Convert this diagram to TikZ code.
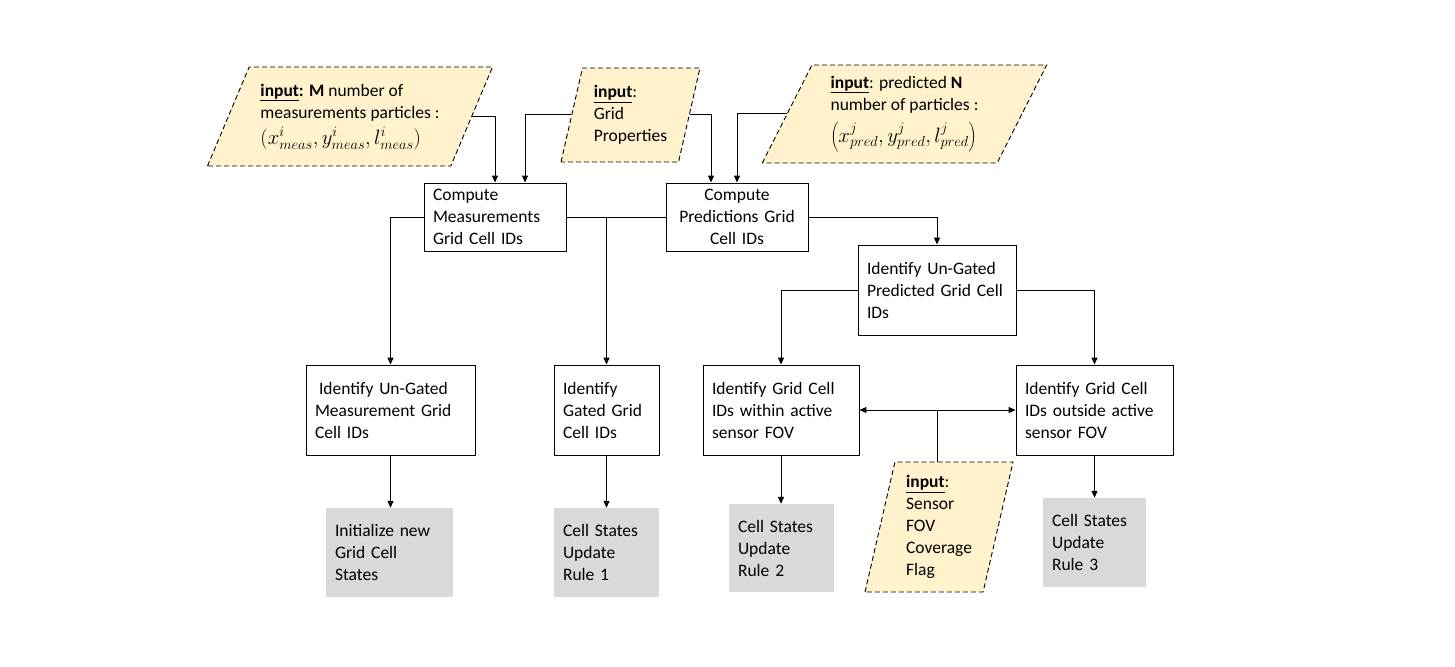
\documentclass[tikz,border=0pt]{standalone}
\usepackage{fontspec}
\setmainfont{Carlito}
\usetikzlibrary{shapes.geometric, arrows.meta}
\definecolor{inyellow}{HTML}{FFF2CC}
\definecolor{cellgrey}{HTML}{D9D9D9}
\newcommand{\bigmath}[1]{{\fontsize{20.5}{24}\selectfont$#1$}}

\begin{document}
\begin{tikzpicture}[x=1pt, y=-1pt,
        font=\fontsize{17.5}{22}\selectfont,
        proc/.style={draw, line width=0.9pt, inner xsep=9pt, inner ysep=0pt, align=left, text width=#1},
        rule/.style={fill=cellgrey, inner xsep=9pt, inner ysep=0pt, align=left, text width=#1},
        inbox/.style={trapezium, trapezium stretches=true, draw, dashed, dash pattern=on 5pt off 3pt,
            line width=0.9pt, fill=inyellow, inner sep=0pt, align=left},
        link/.style={line width=1pt},
        arr/.style={link, -{Triangle[length=7pt, width=6pt]}},
        darr/.style={link, {Triangle[length=7pt, width=6pt]}-{Triangle[length=7pt, width=6pt]}}]
        \useasboundingbox (0, 0) rectangle (1455, 666);

        % inputs
        \node[inbox, trapezium left angle=60.5, trapezium right angle=119.5,
            minimum width=286pt, minimum height=99pt] (inM) at (350, 116.5)
            {\textbf{\underline{input}:} \textbf{M} number of\\ measurements particles :\\[4pt]
             \bigmath{(x^i_{meas}, y^i_{meas}, l^i_{meas})}};
        \node[inbox, trapezium left angle=74.5, trapezium right angle=105.5,
            minimum width=139pt, minimum height=94pt] (inG) at (630.5, 115)
            {\textbf{\underline{input}}:\\ Grid\\ Properties};
        \node[inbox, trapezium left angle=62.5, trapezium right angle=117.5,
            minimum width=285pt, minimum height=98pt] (inP) at (904.5, 114)
            {\textbf{\underline{input}}: predicted \textbf{N}\\ number of particles :\\[8pt]
             \bigmath{\left(x^j_{pred}, y^j_{pred}, l^j_{pred}\right)}};
        \node[inbox, trapezium left angle=77.8, trapezium right angle=102.2,
            minimum width=148pt, minimum height=130pt] (inF) at (939, 527)
            {\textbf{\underline{input}}:\\ Sensor\\ FOV\\ Coverage\\ Flag};

        % processing steps
        \node[proc=124pt, minimum height=68pt] (CM) at (495, 217) {Compute\\ Measurements\\ Grid Cell IDs};
        \node[proc=124pt, minimum height=68pt, align=center] (CP) at (737, 217) {Compute\\ Predictions Grid\\ Cell IDs};
        \node[proc=140pt, minimum height=90pt] (IUP) at (937, 290) {Identify Un-Gated\\ Predicted Grid Cell\\ IDs};
        \node[proc=151pt, minimum height=90pt] (IUM) at (390.5, 410) {\hspace*{4pt}Identify Un-Gated\\ Measurement Grid\\ Cell IDs};
        \node[proc=87pt, minimum height=90pt] (IG) at (606.5, 410) {Identify\\ Gated Grid\\ Cell IDs};
        \node[proc=138pt, minimum height=90pt] (IW) at (781, 410) {Identify Grid Cell\\ IDs within active\\ sensor FOV};
        \node[proc=139pt, minimum height=90pt] (IO) at (1094.5, 410) {Identify Grid Cell\\ IDs outside active\\ sensor FOV};

        % state updates
        \node[rule=109pt, minimum height=89pt] (Init) at (389.5, 552.5) {Initialize new\\ Grid Cell\\ States};
        \node[rule=87pt, minimum height=89pt] (R1) at (606.5, 552.5) {Cell States\\ Update\\ Rule 1};
        \node[rule=87pt, minimum height=88pt] (R2) at (781.5, 548) {Cell States\\ Update\\ Rule 2};
        \node[rule=85pt, minimum height=89pt] (R3) at (1094.5, 542.5) {Cell States\\ Update\\ Rule 3};

        % connectors
        \draw[arr] (inM.right side) -| (CM.north);
        \draw[arr] (inG.left side) -| ([xshift=30pt]CM.north);
        \draw[arr] (inG.right side) -| ([xshift=-26pt]CP.north);
        \draw[arr] (inP.left side) -| (CP.north);
        \draw[link] (CM.east) -- (CP.west);
        \draw[arr] (CM.east -| IG.north) -- (IG.north);
        \draw[arr] (CM.west) -| (IUM.north);
        \draw[arr] (CP.east) -| (IUP.north);
        \draw[arr] (IUP.west) -| (IW.north);
        \draw[arr] (IUP.east) -| (IO.north);
        \draw[darr] (IW.east) -- coordinate[midway] (fovj) (IO.west);
        \draw[link] (fovj |- inF.top side) -- (fovj);
        \draw[arr] (IUM.south) -- (IUM.south |- Init.north);
        \draw[arr] (IG.south) -- (IG.south |- R1.north);
        \draw[arr] (IW.south) -- (IW.south |- R2.north);
        \draw[arr] (IO.south) -- (IO.south |- R3.north);
    \end{tikzpicture}
\end{document}
